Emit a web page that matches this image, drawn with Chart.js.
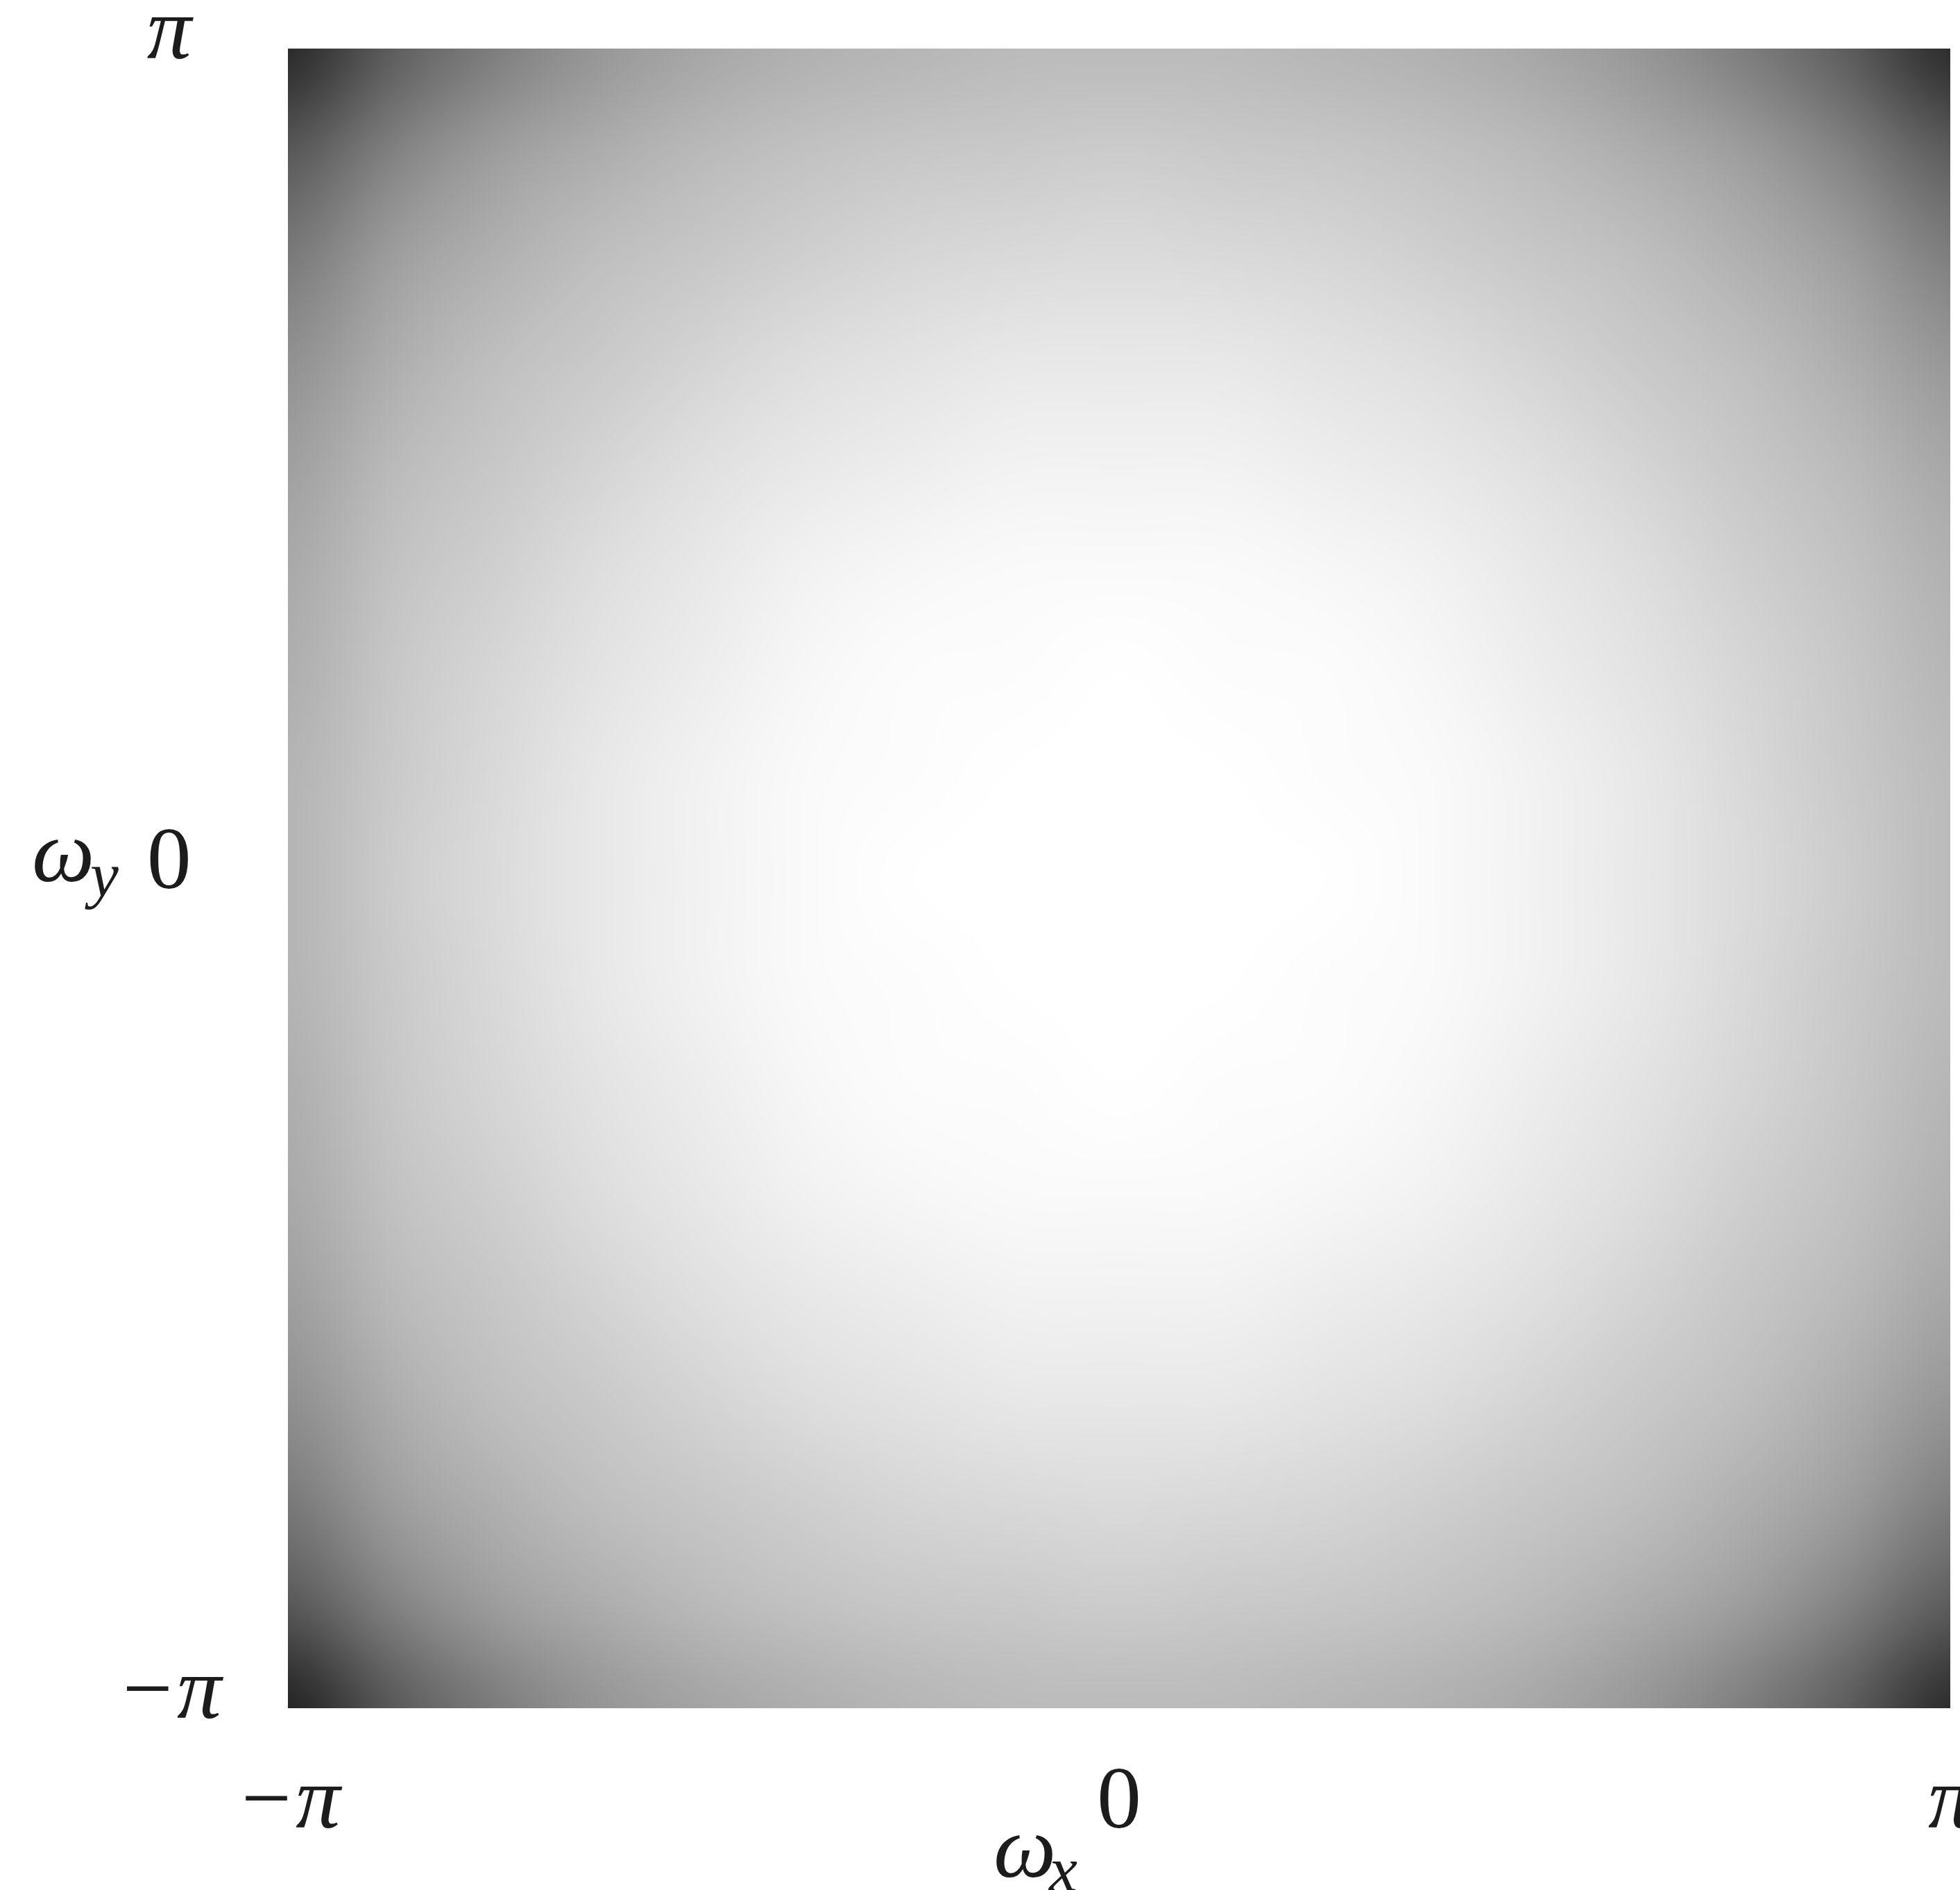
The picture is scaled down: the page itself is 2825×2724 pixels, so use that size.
<!DOCTYPE html>
<html>
<head>
<meta charset="utf-8">
<title>Frequency response</title>
<script src="https://cdn.jsdelivr.net/npm/chart.js@4/dist/chart.umd.min.js"></script>
<style>
  html, body { margin: 0; padding: 0; background: #fff; }
  #plot { display: block; }
</style>
</head>
<body>
<canvas id="plot" width="2825" height="2724"></canvas>
<script>
// grid nodes in steps of pi/8 along both frequency axes
const nodeSteps = [-8, -7, -6, -5, -4, -3, -2, -1, 0, 1, 2, 3, 4, 5, 6, 7, 8];
const wx = nodeSteps.map(k => k * Math.PI / 8);
const wy = nodeSteps.map(k => k * Math.PI / 8);

// |H(wx, wy)|, one row per wy node (first row is wy = -pi), columns follow wx
const magnitude = [
  [0.12, 0.34, 0.48, 0.58, 0.64, 0.68, 0.71, 0.73, 0.73, 0.73, 0.71, 0.69, 0.65, 0.59, 0.49, 0.36, 0.16],
  [0.34, 0.51, 0.62, 0.68, 0.73, 0.76, 0.78, 0.79, 0.80, 0.79, 0.78, 0.76, 0.73, 0.68, 0.62, 0.51, 0.36],
  [0.47, 0.62, 0.69, 0.75, 0.78, 0.81, 0.84, 0.85, 0.86, 0.85, 0.84, 0.81, 0.78, 0.75, 0.69, 0.62, 0.49],
  [0.56, 0.68, 0.75, 0.79, 0.83, 0.87, 0.89, 0.91, 0.91, 0.91, 0.89, 0.87, 0.83, 0.79, 0.75, 0.68, 0.59],
  [0.62, 0.73, 0.78, 0.83, 0.88, 0.91, 0.93, 0.95, 0.95, 0.95, 0.93, 0.91, 0.88, 0.83, 0.78, 0.73, 0.65],
  [0.66, 0.76, 0.81, 0.87, 0.91, 0.95, 0.97, 0.98, 0.98, 0.98, 0.97, 0.95, 0.91, 0.87, 0.81, 0.76, 0.69],
  [0.68, 0.78, 0.84, 0.89, 0.93, 0.97, 0.99, 0.99, 1.00, 0.99, 0.99, 0.97, 0.93, 0.89, 0.84, 0.78, 0.71],
  [0.70, 0.79, 0.85, 0.91, 0.95, 0.98, 0.99, 1.00, 1.00, 1.00, 0.99, 0.98, 0.95, 0.91, 0.85, 0.79, 0.73],
  [0.70, 0.80, 0.86, 0.91, 0.95, 0.98, 1.00, 1.00, 1.00, 1.00, 1.00, 0.98, 0.95, 0.91, 0.86, 0.80, 0.73],
  [0.70, 0.79, 0.85, 0.91, 0.95, 0.98, 0.99, 1.00, 1.00, 1.00, 0.99, 0.98, 0.95, 0.91, 0.85, 0.79, 0.73],
  [0.68, 0.78, 0.84, 0.89, 0.93, 0.97, 0.99, 0.99, 1.00, 0.99, 0.99, 0.97, 0.93, 0.89, 0.84, 0.78, 0.71],
  [0.66, 0.76, 0.81, 0.87, 0.91, 0.95, 0.97, 0.98, 0.98, 0.98, 0.97, 0.95, 0.91, 0.87, 0.81, 0.76, 0.69],
  [0.62, 0.73, 0.78, 0.83, 0.88, 0.91, 0.93, 0.95, 0.95, 0.95, 0.93, 0.91, 0.88, 0.83, 0.78, 0.73, 0.65],
  [0.56, 0.68, 0.75, 0.79, 0.83, 0.87, 0.89, 0.91, 0.91, 0.91, 0.89, 0.87, 0.83, 0.79, 0.75, 0.68, 0.59],
  [0.47, 0.62, 0.69, 0.75, 0.78, 0.81, 0.84, 0.85, 0.86, 0.85, 0.84, 0.81, 0.78, 0.75, 0.69, 0.62, 0.49],
  [0.34, 0.51, 0.62, 0.68, 0.73, 0.76, 0.78, 0.79, 0.80, 0.79, 0.78, 0.76, 0.73, 0.68, 0.62, 0.51, 0.36],
  [0.15, 0.36, 0.49, 0.59, 0.65, 0.69, 0.71, 0.73, 0.73, 0.73, 0.71, 0.69, 0.65, 0.59, 0.49, 0.36, 0.16]
];

const tickValues = [-Math.PI, 0, Math.PI];
const tickText = ['\u2212\u03c0', '0', '\u03c0'];

const serif = '"Liberation Serif", "DejaVu Serif", serif';
const ink = '#1c1c1c';

function tickFont(ctx) {
  const label = tickText[ctx.index] || '';
  return { family: serif, size: 128, style: label.includes('\u03c0') ? 'italic' : 'normal' };
}

// grey image of the magnitude grid, stretched over the scales with smoothing
const heatmap = {
  id: 'heatmap',
  beforeDatasetsDraw(chart) {
    const { ctx, chartArea, scales: { x, y } } = chart;
    const n = wx.length, m = wy.length;
    const img = document.createElement('canvas');
    img.width = n;
    img.height = m;
    const ictx = img.getContext('2d');
    const pix = ictx.createImageData(n, m);
    for (let r = 0; r < m; r++) {
      const row = magnitude[m - 1 - r]; // canvas row 0 is wy = +pi
      for (let c = 0; c < n; c++) {
        const g = Math.round(255 * row[c]);
        const k = (r * n + c) * 4;
        pix.data[k] = g;
        pix.data[k + 1] = g;
        pix.data[k + 2] = g;
        pix.data[k + 3] = 255;
      }
    }
    ictx.putImageData(pix, 0, 0);

    const x0 = x.getPixelForValue(wx[0]);
    const dx = (x.getPixelForValue(wx[n - 1]) - x0) / (n - 1);
    const yTop = y.getPixelForValue(wy[m - 1]);
    const dy = (y.getPixelForValue(wy[0]) - yTop) / (m - 1);

    ctx.save();
    ctx.beginPath();
    ctx.rect(chartArea.left, chartArea.top, chartArea.right - chartArea.left, chartArea.bottom - chartArea.top);
    ctx.clip();
    ctx.imageSmoothingEnabled = true;
    ctx.imageSmoothingQuality = 'high';
    ctx.drawImage(img, x0 - dx / 2, yTop - dy / 2, dx * n, dy * m);
    ctx.restore();
  }
};

// omega_x / omega_y axis names with subscripts
const axisNames = {
  id: 'axisNames',
  afterDraw(chart) {
    const { ctx, scales: { x, y } } = chart;
    ctx.save();
    ctx.fillStyle = ink;
    ctx.textBaseline = 'alphabetic';
    ctx.textAlign = 'left';

    const yx = y.left + 46, yy = y.getPixelForValue(0) + 4;
    ctx.font = 'italic 128px ' + serif;
    ctx.fillText('\u03c9', yx, yy);
    ctx.font = 'italic 92px ' + serif;
    ctx.fillText('y', yx + 84, yy + 22);

    const xx = x.getPixelForValue(0) - 181, xy = x.bottom - 19;
    ctx.font = 'italic 128px ' + serif;
    ctx.fillText('\u03c9', xx, xy);
    ctx.font = 'italic 92px ' + serif;
    ctx.fillText('x', xx + 80, xy + 20);
    ctx.restore();
  }
};

new Chart(document.getElementById('plot').getContext('2d'), {
  type: 'scatter',
  data: { datasets: [{ data: [], pointRadius: 0 }] },
  plugins: [heatmap, axisNames],
  options: {
    responsive: false,
    animation: false,
    layout: { padding: { top: 70, right: 14, left: 0, bottom: 0 } },
    plugins: { legend: { display: false }, tooltip: { enabled: false } },
    scales: {
      x: {
        type: 'linear',
        min: -Math.PI,
        max: Math.PI,
        grid: { display: false, drawTicks: false },
        border: { display: false },
        afterBuildTicks: s => { s.ticks = tickValues.map(v => ({ value: v })); },
        afterFit: s => { s.height = 262; s.paddingLeft = 0; s.paddingRight = 0; },
        ticks: {
          autoSkip: false,
          maxRotation: 0,
          padding: 62,
          color: ink,
          font: tickFont,
          callback: (v, i) => tickText[i]
        }
      },
      y: {
        type: 'linear',
        min: -Math.PI,
        max: Math.PI,
        grid: { display: false, drawTicks: false },
        border: { display: false },
        afterBuildTicks: s => { s.ticks = tickValues.map(v => ({ value: v })); },
        afterFit: s => { s.width = 415; s.paddingTop = 0; s.paddingBottom = 0; },
        ticks: {
          autoSkip: false,
          crossAlign: 'center',
          padding: 96,
          labelOffset: -20,
          color: ink,
          font: tickFont,
          callback: (v, i) => tickText[i]
        }
      }
    }
  }
});
</script>
</body>
</html>
